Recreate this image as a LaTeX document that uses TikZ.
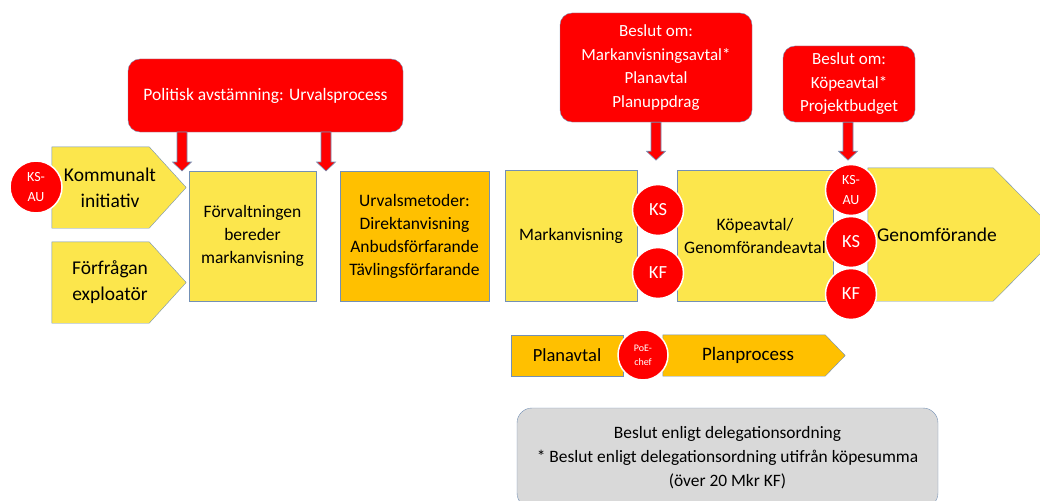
\documentclass[tikz,border=0pt]{standalone}
\usepackage{fontspec}
\setmainfont{Carlito}
\usetikzlibrary{positioning,backgrounds}
\definecolor{rd}{HTML}{FF0000}
\definecolor{yl}{HTML}{FCE64C}
\definecolor{og}{HTML}{FFC000}
\definecolor{gy}{HTML}{D9D9D9}
\definecolor{edge}{HTML}{7390B5}
\newcommand{\fs}[2]{\fontsize{#1}{#2}\selectfont}
% block arrow pointing down: start point, length
\newcommand{\blkarr}[2]{\draw[blk] (#1) ++(-5,0) -- ++(0,#2-9) -- ++(-4.5,0) -- ++(9.5,9) -- ++(9.5,-9) -- ++(-4.5,0) -- ++(0,-#2+9) -- cycle;}
\tikzset{
  rbox/.style={draw=edge,fill=rd,rounded corners=12pt,text=white,align=center,inner sep=0pt,font=\fs{17}{23.5}},
  ybox/.style={draw=edge,fill=yl,align=center,inner sep=0pt,font=\fs{17.5}{23}},
  obox/.style={ybox,fill=og},
  ytxt/.style={align=center,inner sep=0pt,font=\fs{19.5}{26}},
  ypent/.style={draw=edge,fill=yl},
  opent/.style={draw=edge,fill=og},
  dec/.style={circle,draw=white,line width=1.5pt,fill=rd,text=white,minimum size=51pt,inner sep=0pt,align=center,font=\fs{18.5}{20}},
  blk/.style={draw=edge,line width=0.6pt,fill=rd},
  note/.style={draw=edge,fill=gy,rounded corners=15pt,align=center,inner sep=0pt,font=\fs{17.4}{24}},
}

\begin{document}
\begin{tikzpicture}[x=1pt,y=-1pt]
  \useasboundingbox (0,0) rectangle (1040,500);
  % left part: urvalsprocess
  \node[rbox,minimum width=275pt,minimum height=73pt,font=\fs{17.5}{23}] (pol) at (265.5,95.5) {Politisk avstämning: Urvalsprocess};
  \node[ytxt,minimum width=116pt,minimum height=81pt] (kom) at (110,187.5) {Kommunalt\\initiativ};
  \node[ytxt,minimum width=116pt,minimum height=81pt] (forf) at (110,282.5) {Förfrågan\\exploatör};
  \begin{scope}[on background layer]
    \draw[ypent] (kom.north west) -- ([xshift=-19pt]kom.north east) -- ([xshift=18pt]kom.east) -- ([xshift=-19pt]kom.south east) -- (kom.south west) -- cycle;
    \draw[ypent] (forf.north west) -- ([xshift=-19pt]forf.north east) -- ([xshift=18pt]forf.east) -- ([xshift=-19pt]forf.south east) -- (forf.south west) -- cycle;
  \end{scope}
  \node[dec,minimum size=52pt,font=\fs{14}{20}] (ksau1) at (36,187) {KS-\\AU};
  \node[ybox,minimum width=127pt,minimum height=130pt] (forv) at (252.5,236) {Förvaltningen\\bereder\\markanvisning};
  \node[obox,minimum width=149pt,minimum height=130pt] (urval) at (414.5,236) {Urvalsmetoder:\\Direktanvisning\\Anbudsförfarande\\Tävlingsförfarande};
  \coordinate (a1) at (182,132);
  \coordinate (a2) at (326,132);
  \blkarr{a1}{39}
  \blkarr{a2}{39}

  % right part: avtal och genomförande
  \node[rbox,minimum width=192pt,minimum height=109pt] (bes1) at (656,67.5) {Beslut om:\\Markanvisningsavtal*\\Planavtal\\Planuppdrag};
  \node[rbox,minimum width=132pt,minimum height=76pt] (bes2) at (849,84) {Beslut om:\\Köpeavtal*\\Projektbudget};
  \coordinate (a3) at (bes1.south);
  \coordinate (a4) at ([xshift=-1pt]bes2.south);
  \blkarr{a3}{38}
  \blkarr{a4}{38}
  \node[ybox,minimum width=132pt,minimum height=131pt] (mark) at (571,235.5) {Markanvisning};
  \node[ybox,minimum width=156pt,minimum height=131pt] (kop) at (755,235.5) {Köpeavtal/\\Genomförandeavtal};
  \node[ytxt,minimum width=138pt,minimum height=133pt,font=\fs{19.5}{24}] (genom) at (937,234.5) {Genomförande};
  \begin{scope}[on background layer]
    \draw[ypent] (genom.north west) -- ([xshift=-13pt]genom.north east) -- ([xshift=53pt]genom.east) -- ([xshift=-13pt]genom.south east) -- (genom.south west) -- cycle;
  \end{scope}
  \node[dec] (ks1) at (658,210) {KS};
  \node[dec] (kf1) at (658,273) {KF};
  \node[dec,font=\fs{14}{20}] (ksau2) at (851,190) {KS-\\AU};
  \node[dec] (ks2) at (851,242) {KS};
  \node[dec] (kf2) at (851,294) {KF};

  % planprocess
  \node[obox,minimum width=112pt,minimum height=41pt,font=\fs{18.5}{22}] (plan) at (567,355.5) {Planavtal};
  \node[ytxt,minimum width=170pt,minimum height=41pt,font=\fs{19}{22}] (planp) at (748,355.5) {Planprocess};
  \begin{scope}[on background layer]
    \draw[opent] (planp.north west) -- ([xshift=-8pt]planp.north east) -- ([xshift=12pt]planp.east) -- ([xshift=-8pt]planp.south east) -- (planp.south west) -- cycle;
  \end{scope}
  \node[dec,minimum size=50pt,font=\fs{10}{14}] (poe) at (643,355) {PoE-\\chef};

  % förklaring
  \node[note,minimum width=421pt,minimum height=100pt] (deleg) at (727.5,458) {Beslut enligt delegationsordning\\* Beslut enligt delegationsordning utifrån köpesumma\\(över 20 Mkr KF)};
\end{tikzpicture}
\end{document}
